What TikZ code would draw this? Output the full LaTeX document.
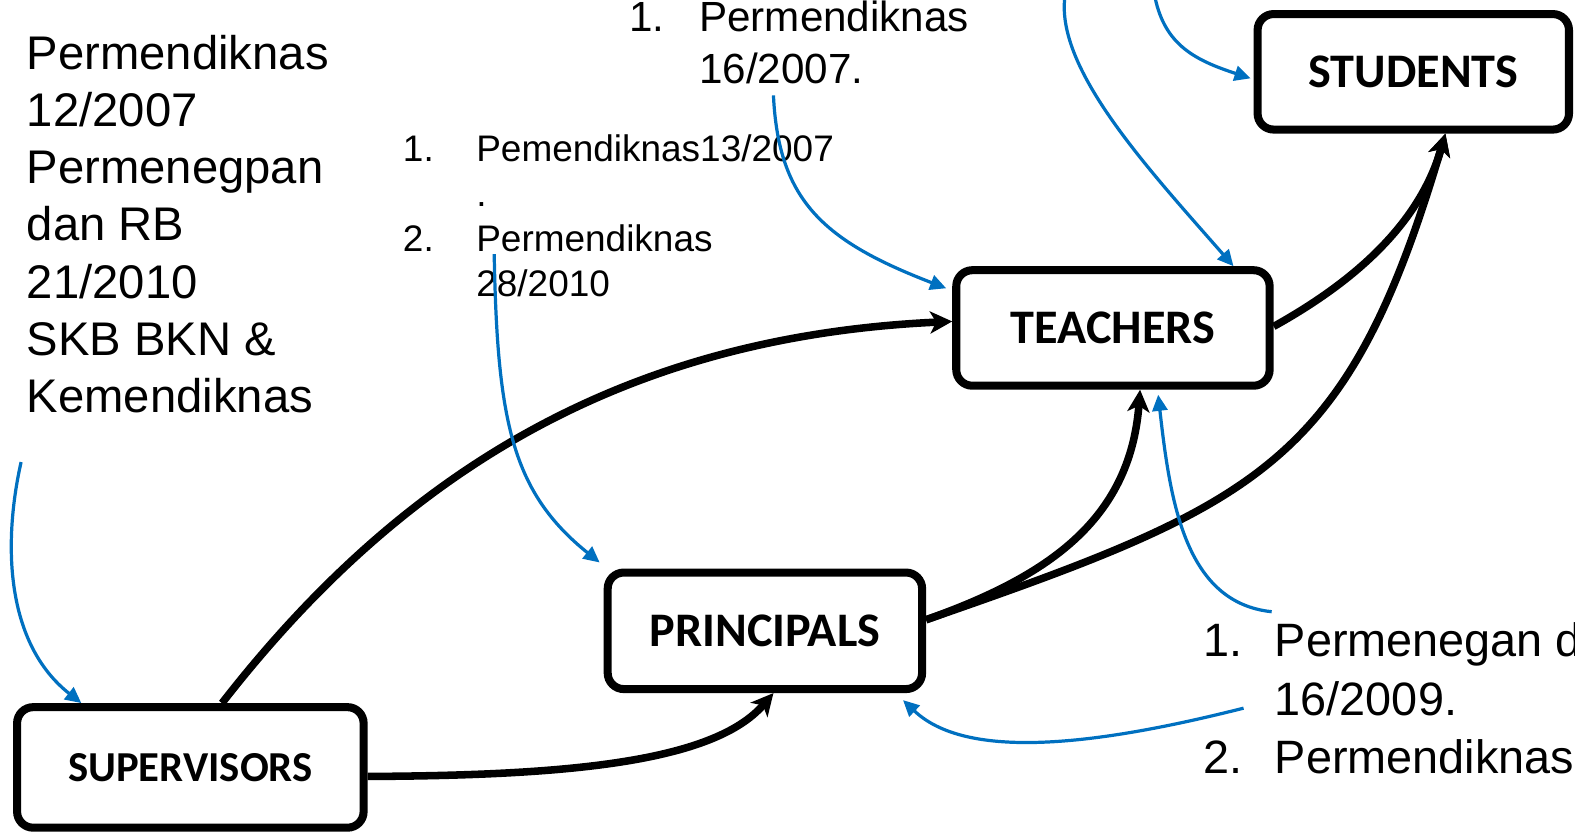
\documentclass[tikz,border=0pt]{standalone}
\usepackage{fontspec}
\setmainfont{Liberation Sans}
\newfontfamily\boxfont{Carlito}
\usetikzlibrary{arrows.meta}
\definecolor{regblue}{HTML}{0070C0}
\tikzset{
  box/.style={draw, line width=8pt, rounded corners=16pt, inner sep=0pt},
  boxlabel/.style={font=\boxfont\bfseries\fontsize{48}{56}\selectfont},
  blk/.style={line width=7.5pt, -{Stealth[length=22pt,width=22pt,inset=6pt]}},
  blu/.style={draw=regblue, line width=3.2pt, -{Triangle[length=16pt,width=15pt]}},
  txt/.style={inner sep=0pt, anchor=base west}
}
\begin{document}
\begin{tikzpicture}[x=1pt,y=-1pt]
\useasboundingbox (0,0) rectangle (1568,832);
% boxes
\node[box, boxlabel, minimum width=310pt, minimum height=115pt] (stu) at (1407,71.5) {STUDENTS};
\node[box, boxlabel, minimum width=312pt, minimum height=115pt] (tea) at (1108,326.5) {TEACHERS};
\node[box, boxlabel, minimum width=313pt, minimum height=116pt] (pri) at (761.5,628) {PRINCIPALS};
\node[box, boxlabel, font=\boxfont\bfseries\fontsize{42.5}{50}\selectfont, minimum width=345pt, minimum height=120pt] (sup) at (189.5,764) {SUPERVISORS};
% texts
\node[txt, font=\fontsize{47}{57}\selectfont] (lefttxt) at (26.6,68.7)
  {\begin{tabular}[t]{@{}l@{}}Permendiknas\\12/2007\\Permenegpan\\dan RB\\21/2010\\SKB BKN \&\\Kemendiknas\end{tabular}};
\node[txt, font=\fontsize{42}{51.5}\selectfont] (toptxt) at (626,31.5)
  {\begin{tabular}[t]{@{}p{70pt}@{}l@{}}1.&Permendiknas\\&16/2007.\end{tabular}};
\node[txt, font=\fontsize{36.8}{44.7}\selectfont] (midtxt) at (401,161)
  {\begin{tabular}[t]{@{}p{73pt}@{}l@{}}1.&Pemendiknas13/2007\\&.\\2.&Permendiknas\\&28/2010\end{tabular}};
\node[txt, font=\fontsize{46.6}{58}\selectfont] (brtxt) at (1198,654)
  {\begin{tabular}[t]{@{}p{71pt}@{}l@{}}1.&Permenegan d\\&16/2009.\\2.&Permendiknas\end{tabular}};
% free ends of blue connectors
\coordinate (b1) at (21,460);
\coordinate (b2) at (492,253);
\coordinate (b3) at (770,95);
\coordinate (b4) at (1060,-2);
\coordinate (b5) at (1150,-2);
\coordinate (b6) at (1266,609);
\coordinate (b7) at (1238,705);
% black connectors
\draw[blk] ([xshift=31.5pt]sup.north) .. controls (400,470) and (620,335) .. ([yshift=6.5pt]tea.west);
\draw[blk] ([yshift=-9pt]sup.east) .. controls (560,772) and (710,760) .. ([xshift=8.5pt]pri.south);
\draw[blk] ([yshift=11pt]pri.east) .. controls (1040,575) and (1125,520) .. ([xshift=27pt]tea.south);
\draw[blk] ([yshift=11pt]pri.east) .. controls (1256,501) and (1342,462) .. ([xshift=32pt]stu.south);
\draw[blk] ([yshift=1.5pt]tea.east) .. controls (1340,285) and (1412,228) .. ([xshift=32pt]stu.south);
% blue connectors
\draw[blu] (b1) .. controls (3,540) and (5,640) .. ([xshift=-108.5pt]sup.north);
\draw[blu] (b2) .. controls (495,420) and (510,490) .. ([xshift=-4pt,yshift=6pt]pri.north west);
\draw[blu] (b3) .. controls (775,200) and (820,240) .. ([xshift=-6pt,yshift=-22pt]tea.north west);
\draw[blu] (b4) .. controls (1052,70) and (1143,168) .. ([xshift=-40pt]tea.north east);
\draw[blu] (b5) .. controls (1160,45) and (1190,60) .. ([xshift=-3pt,yshift=-6.5pt]stu.west);
\draw[blu] (b6) .. controls (1180,600) and (1165,500) .. ([xshift=45pt,yshift=-5pt]tea.south);
\draw[blu] (b7) .. controls (1080,745) and (960,755) .. ([xshift=-23pt,yshift=-7pt]pri.south east);
\end{tikzpicture}
\end{document}
